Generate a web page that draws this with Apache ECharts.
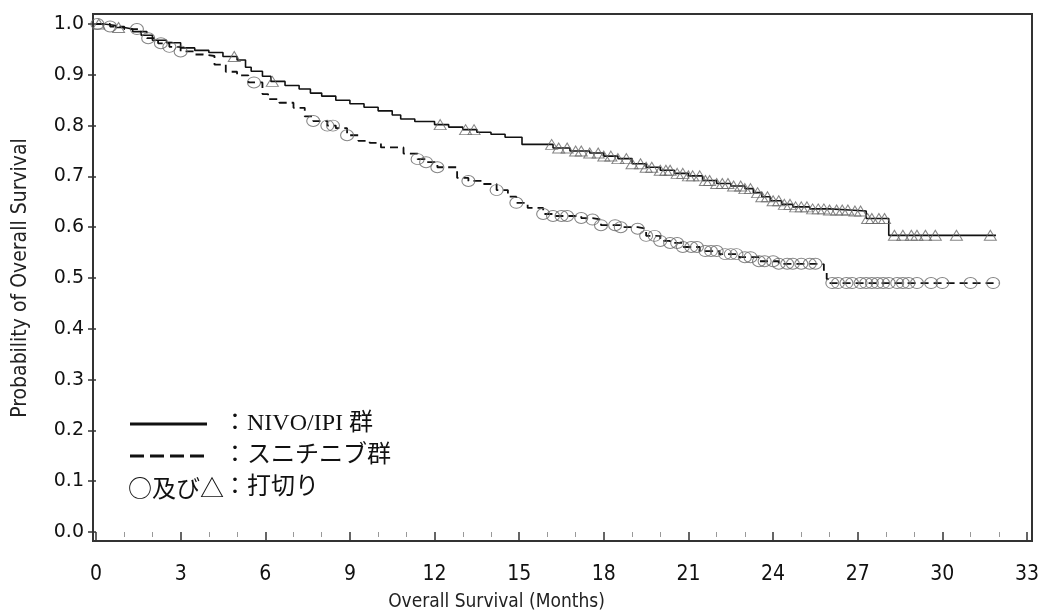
<!DOCTYPE html>
<html><head><meta charset="utf-8">
<script src="https://cdn.jsdelivr.net/npm/echarts@6/dist/echarts.min.js"></script>
<style>html,body{margin:0;padding:0;background:#fff}#c{width:1041px;height:610px}</style>
</head><body><div id="c"></div>
<script>
// ---- data ----
const nivoIpiCurve = [
  [0,1.0],[0.3,0.997],[0.7,0.993],[1.0,0.99],[1.3,0.985],[1.6,0.978],[2.0,0.968],[2.5,0.963],
  [3.0,0.953],[3.5,0.948],[4.0,0.944],[4.5,0.936],[5.0,0.929],[5.3,0.915],[5.5,0.907],[5.9,0.897],
  [6.2,0.887],[6.7,0.879],[7.2,0.872],[7.6,0.864],[8.0,0.858],[8.5,0.85],[9.0,0.843],[9.5,0.836],
  [10.0,0.829],[10.5,0.821],[10.8,0.813],[11.3,0.808],[12.0,0.802],[12.5,0.797],[13.0,0.792],
  [13.5,0.787],[14.0,0.783],[14.5,0.777],[15.1,0.763],[16.2,0.756],[16.8,0.75],[17.5,0.746],
  [18.0,0.74],[18.5,0.735],[19.0,0.725],[19.5,0.718],[20.0,0.712],[20.5,0.706],[21.0,0.701],
  [21.5,0.692],[22.0,0.686],[22.5,0.681],[23.0,0.676],[23.3,0.668],[23.6,0.66],[23.9,0.652],
  [24.3,0.645],[24.7,0.64],[25.3,0.636],[26.0,0.634],[26.7,0.632],[27.3,0.617],[28.1,0.584],[31.9,0.584]
];
const sunitinibCurve = [
  [0,1.0],[0.5,0.995],[1.0,0.99],[1.5,0.985],[1.8,0.972],[2.2,0.962],[2.6,0.955],[3.0,0.946],
  [3.5,0.94],[3.8,0.937],[4.2,0.92],[4.6,0.906],[5.0,0.899],[5.4,0.885],[5.9,0.862],[6.1,0.852],
  [6.5,0.845],[7.0,0.835],[7.4,0.818],[7.7,0.809],[8.2,0.8],[8.5,0.795],[8.9,0.781],[9.3,0.77],
  [9.7,0.766],[10.1,0.757],[10.9,0.745],[11.4,0.734],[11.7,0.728],[12.1,0.718],[12.8,0.697],
  [13.2,0.691],[13.7,0.685],[14.2,0.673],[14.6,0.66],[14.9,0.648],[15.3,0.638],[15.85,0.626],
  [16.2,0.622],[17.2,0.618],[17.6,0.615],[17.9,0.604],[18.6,0.6],[19.2,0.597],[19.5,0.583],
  [20.0,0.573],[20.35,0.569],[20.8,0.561],[21.4,0.553],[22.1,0.547],[22.8,0.541],[23.5,0.533],
  [24.2,0.528],[25.7,0.527],[25.8,0.512],[25.9,0.498],[26.0,0.49],[32.0,0.49]
];
const nivoIpiCensorMonths = [
  0.1,0.8,4.9,6.25,12.2,13.1,13.4,
  16.15,16.4,16.7,17.0,17.2,17.5,17.8,18.0,18.25,18.5,18.8,19.0,19.3,19.5,19.7,20.0,20.2,
  20.35,20.6,20.8,21.0,21.15,21.4,21.6,21.75,22.0,22.2,22.4,22.6,22.85,23.0,23.2,23.45,23.6,
  23.8,24.0,24.2,24.4,24.6,24.8,25.0,25.2,25.4,25.6,25.8,26.0,26.25,26.45,26.65,26.9,27.1,
  27.35,27.5,27.75,27.95,28.3,28.6,28.9,29.1,29.4,29.75,30.5,31.7
];
const sunitinibCensorMonths = [
  0.05,0.5,1.45,1.85,2.3,2.6,3.0,5.6,7.7,8.2,8.4,8.9,11.4,11.7,12.1,13.2,14.2,14.9,
  15.85,16.2,16.5,16.7,17.2,17.6,17.9,18.4,18.6,19.2,19.5,19.8,20.0,20.35,20.6,20.8,
  21.1,21.3,21.6,21.8,22.0,22.3,22.5,22.7,23.0,23.2,23.5,23.7,24.0,24.2,24.5,24.7,25.0,25.3,25.5,
  26.1,26.3,26.6,26.8,27.1,27.3,27.5,27.7,27.9,28.1,28.4,28.6,28.8,29.1,29.6,30.0,31.0,31.8
];
const legendLabels = ['：NIVO/IPI 群', '：スニチニブ群', '○及び△', '：打切り'];

function survivalAt(curve, t) {
  let s = curve[0][1];
  for (const [m, v] of curve) { if (m <= t) s = v; else break; }
  return s;
}
const nivoIpiCensors = nivoIpiCensorMonths.map(t => [t, survivalAt(nivoIpiCurve, t)]);
const sunitinibCensors = sunitinibCensorMonths.map(t => [t, survivalAt(sunitinibCurve, t)]);

const chart = echarts.init(document.getElementById('c'), null, {renderer: 'canvas'});
const sansCond = '"DejaVu Sans Condensed","Liberation Sans Narrow","DejaVu Sans",sans-serif';
const legendFont = '"Liberation Serif","Noto Sans CJK JP",serif';
const cjkFont = '"Noto Sans CJK JP",serif';
chart.setOption({
  animation: false,
  backgroundColor: '#fff',
  grid: {left: 96, right: 14, top: 24, bottom: 78, containLabel: false, outerBoundsMode: 'none'},
  xAxis: {
    type: 'value', min: 0, max: 33, interval: 3, offset: 9,
    axisLine: {show: false},
    axisTick: {show: true, length: 10, lineStyle: {color: '#333', width: 1.5}},
    minorTick: {show: true, splitNumber: 3, length: 5, lineStyle: {color: '#999', width: 1}},
    splitLine: {show: false}, minorSplitLine: {show: false},
    axisLabel: {fontFamily: sansCond, fontSize: 21, color: '#111', margin: 23},
    name: 'Overall Survival (Months)', nameLocation: 'middle', nameGap: 52,
    nameTextStyle: {fontFamily: sansCond, fontSize: 19, color: '#222', padding: [0, 130, 0, 0]}
  },
  yAxis: {
    type: 'value', min: 0, max: 1, interval: 0.1, offset: 3,
    axisLine: {show: false},
    axisTick: {show: true, length: 8, lineStyle: {color: '#333', width: 1.5}},
    splitLine: {show: false},
    axisLabel: {fontFamily: '"DejaVu Sans",sans-serif', fontSize: 19, color: '#111', margin: 9,
      formatter: v => v.toFixed(1)},
    name: 'Probability of Overall Survival', nameLocation: 'middle', nameRotate: 90, nameGap: 62,
    nameTextStyle: {fontFamily: sansCond, fontSize: 21, color: '#222'}
  },
  series: [
    {type: 'line', name: 'NIVO/IPI', data: nivoIpiCurve, step: 'end', showSymbol: false,
     lineStyle: {color: '#111', width: 1.6}, z: 3, silent: true},
    {type: 'line', name: 'Sunitinib', data: sunitinibCurve, step: 'end', showSymbol: false,
     lineStyle: {color: '#111', width: 1.8, type: [8, 5]}, z: 3, silent: true},
    {type: 'scatter', data: nivoIpiCensors, symbol: 'triangle', symbolSize: [12, 10],
     itemStyle: {color: 'rgba(0,0,0,0)', borderColor: '#666', borderWidth: 1}, z: 4, silent: true},
    {type: 'scatter', data: sunitinibCensors, symbol: 'circle', symbolSize: [13, 11],
     itemStyle: {color: 'rgba(0,0,0,0)', borderColor: '#666', borderWidth: 1}, z: 4, silent: true}
  ],
  graphic: [
    {type: 'rect', shape: {x: 93, y: 14, width: 939, height: 527},
     style: {fill: 'none', stroke: '#333', lineWidth: 2}, silent: true},
    {type: 'line', shape: {x1: 130, y1: 424, x2: 207, y2: 424}, style: {stroke: '#111', lineWidth: 3}},
    {type: 'line', shape: {x1: 130, y1: 456, x2: 210, y2: 456}, style: {stroke: '#111', lineWidth: 3, lineDash: [14, 6]}},
    {type: 'text', x: 223, y: 424, style: {text: legendLabels[0], font: '24px ' + legendFont, fill: '#111', verticalAlign: 'middle'}},
    {type: 'text', x: 223, y: 456, style: {text: legendLabels[1], font: '24px ' + legendFont, fill: '#111', verticalAlign: 'middle'}},
    {type: 'text', x: 128, y: 488, style: {text: legendLabels[2], font: '24px ' + cjkFont, fill: '#111', verticalAlign: 'middle'}},
    {type: 'text', x: 223, y: 488, style: {text: legendLabels[3], font: '24px ' + legendFont, fill: '#111', verticalAlign: 'middle'}}
  ]
});
</script></body></html>
